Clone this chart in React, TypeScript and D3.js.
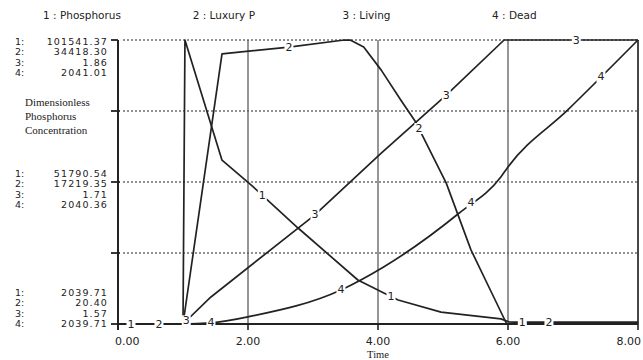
import React from "react";
import * as d3 from "d3";

// ---- data ----
const timeTicks = [0, 2, 4, 6, 8];
const seriesNames = ["Phosphorus", "Luxury P", "Living", "Dead"];
// axis value labels per series: bottom, middle, top
const phosphorusTicks = ["2039.71", "51790.54", "101541.37"];
const luxuryTicks = ["20.40", "17219.35", "34418.30"];
const livingTicks = ["1.57", "1.71", "1.86"];
const deadTicks = ["2039.71", "2040.36", "2041.01"];

const phosphorusT = [0, 1.0, 1.03, 1.6, 2.05, 2.77, 3.69, 4.09, 4.31, 4.97, 5.89, 6.02, 6.25, 8];
const phosphorusV = [2039.71, 2039.71, 101541.37, 59450, 50700, 35670, 17460, 12890, 10450, 6220, 3830, 2740, 2700, 2700];

const luxuryT = [0, 1.0, 1.6, 2.63, 3.48, 3.58, 3.78, 4.05, 4.35, 4.58, 5.05, 5.43, 5.78, 5.98, 6.1, 8];
const luxuryV = [20.4, 20.4, 32730, 33560, 34418.3, 34400, 33560, 30770, 27160, 24480, 17080, 9000, 3290, 20.4, 150, 150];

const livingT = [0, 1.0, 1.43, 3.02, 4.05, 5.05, 5.94, 8];
const livingV = [1.57, 1.57, 1.5976, 1.681, 1.7446, 1.8038, 1.86, 1.86];

const deadT = [0, 1.0, 1.43, 2.05, 3.43, 4.08, 5.25, 5.89, 6.0, 6.92, 8];
const deadV = [2039.71, 2039.71, 2039.715, 2039.746, 2039.866, 2039.97, 2040.218, 2040.383, 2040.429, 2040.69, 2041.01];

const labelTimes1 = [0.2, 2.22, 4.2, 6.22];
const labelTimes2 = [0.63, 2.63, 4.63, 6.63];
const labelTimes3 = [1.05, 3.03, 5.05, 7.05];
const labelTimes4 = [1.43, 3.43, 5.43, 7.43];

// ---- layout ----
const W = 643;
const H = 360;
const LEFT = 118;
const RIGHT = 638;
const TOP = 40;
const BOTTOM = 324;
const INK = "#222";
const SANS = "'DejaVu Sans', sans-serif";
const SERIF = "'Liberation Serif', serif";

export default function App() {
  const x = d3.scaleLinear().domain([0, 8]).range([LEFT, RIGHT]);
  const tickSets = [phosphorusTicks, luxuryTicks, livingTicks, deadTicks];
  const ys = tickSets.map((tk) =>
    d3.scaleLinear().domain([parseFloat(tk[0]), parseFloat(tk[tk.length - 1])]).range([BOTTOM, TOP])
  );
  const fmt = d3.format(".2f");

  const series = [
    { t: phosphorusT, v: phosphorusV, labels: labelTimes1, curve: d3.curveLinear },
    { t: luxuryT, v: luxuryV, labels: labelTimes2, curve: d3.curveLinear },
    { t: livingT, v: livingV, labels: labelTimes3, curve: d3.curveLinear },
    { t: deadT, v: deadV, labels: labelTimes4, curve: d3.curveMonotoneX },
  ];

  const gridFracs = [0.25, 0.5, 0.75, 1];
  const yFrac = d3.scaleLinear().domain([0, 1]).range([BOTTOM, TOP]);
  const tickFracs = [0, 0.25, 0.5, 0.75, 1];

  // groups of axis values: bottom(min), mid, top(max)
  const groups = [
    { frac: 0, offset: -32 },
    { frac: 0.5, offset: -9 },
    { frac: 1, offset: 1 },
  ];
  const rowH = 10.5;

  return (
    <div style={{ position: "absolute", left: 0, top: 0, width: W, height: H, background: "#fff" }}>
      <svg width={W} height={H} style={{ display: "block" }}>
        <rect x={0} y={0} width={W} height={H} fill="#fff" />
        {/* legend */}
        {seriesNames.map((n, i) => (
          <text key={n} x={43 + i * 149.7} y={19} fontFamily={SANS} fontSize={10.5} fill={INK}>
            {`${i + 1} : ${n}`}
          </text>
        ))}

        {/* horizontal dotted grid */}
        {gridFracs.map((f) => (
          <line key={f} x1={LEFT + 5} x2={RIGHT} y1={yFrac(f)} y2={yFrac(f)} stroke="#6e6e6e" strokeWidth={1.4} strokeDasharray="2,2" />
        ))}
        {/* vertical grid */}
        {timeTicks.slice(1).map((t) => (
          <line key={t} x1={x(t)} x2={x(t)} y1={TOP} y2={BOTTOM} stroke={t === 8 ? "#333" : "#5e5e5e"} strokeWidth={t === 8 ? 1.8 : 1.3} />
        ))}

        {/* axes */}
        <line x1={LEFT} x2={LEFT} y1={TOP} y2={BOTTOM + 6} stroke={INK} strokeWidth={2} />
        <line x1={LEFT} x2={RIGHT} y1={BOTTOM} y2={BOTTOM} stroke={INK} strokeWidth={2} />
        {tickFracs.map((f) => (
          <line key={f} x1={LEFT - 7} x2={f === 1 ? LEFT : LEFT + 2} y1={yFrac(f)} y2={yFrac(f)} stroke={INK} strokeWidth={1.8} />
        ))}
        {timeTicks.map((t) => (
          <line key={t} x1={x(t)} x2={x(t)} y1={BOTTOM} y2={BOTTOM + 6} stroke={INK} strokeWidth={1.6} />
        ))}
        {timeTicks.map((t, i) => (
          <text
            key={t}
            x={i === 0 ? x(t) - 3 : i === timeTicks.length - 1 ? x(t) + 3 : x(t)}
            y={345}
            textAnchor={i === 0 ? "start" : i === timeTicks.length - 1 ? "end" : "middle"}
            fontFamily={SANS}
            fontSize={11}
            fill={INK}
          >
            {fmt(t)}
          </text>
        ))}
        <text x={(LEFT + RIGHT) / 2} y={358} textAnchor="middle" fontFamily={SERIF} fontSize={10.5} fill={INK}>
          Time
        </text>

        {/* y value groups */}
        {groups.map((g, gi) =>
          tickSets.map((tk, si) => {
            const cy = yFrac(g.frac) + g.offset + si * rowH;
            return (
              <g key={`${gi}-${si}`}>
                <text x={15} y={cy} dominantBaseline="central" fontFamily={SANS} fontSize={9.5} fill={INK}>
                  {`${si + 1}:`}
                </text>
                <text x={108} y={cy} dominantBaseline="central" textAnchor="end" fontFamily={SANS} fontSize={9.5} fill={INK} letterSpacing={1.1}>
                  {tk[gi]}
                </text>
              </g>
            );
          })
        )}
        {["Dimensionless", "Phosphorus", "Concentration"].map((s, i) => (
          <text key={s} x={25} y={106 + i * 14} fontFamily={SERIF} fontSize={11} fill={INK}>
            {s}
          </text>
        ))}

        {/* series lines */}
        {series.map((s, si) => {
          const pts = s.t.map((t, k) => [t, s.v[k]] as [number, number]);
          const line = d3
            .line<[number, number]>()
            .x((d) => x(d[0]))
            .y((d) => ys[si](d[1]))
            .curve(s.curve);
          return <path key={si} d={line(pts) || ""} fill="none" stroke={INK} strokeWidth={1.7} strokeLinejoin="round" />;
        })}

        {/* series number labels */}
        {series.map((s, si) => {
          const interp = d3.scaleLinear().domain(s.t).range(s.v);
          return s.labels.map((t) => {
            const lx = x(t);
            const ly = ys[si](interp(t));
            return (
              <g key={`${si}-${t}`}>
                <rect x={lx - 4.5} y={ly - 5.5} width={9} height={11} fill="#fff" />
                <text x={lx} y={ly} textAnchor="middle" dominantBaseline="central" fontFamily={SANS} fontSize={11} fill={INK}>
                  {si + 1}
                </text>
              </g>
            );
          });
        })}
      </svg>
    </div>
  );
}
